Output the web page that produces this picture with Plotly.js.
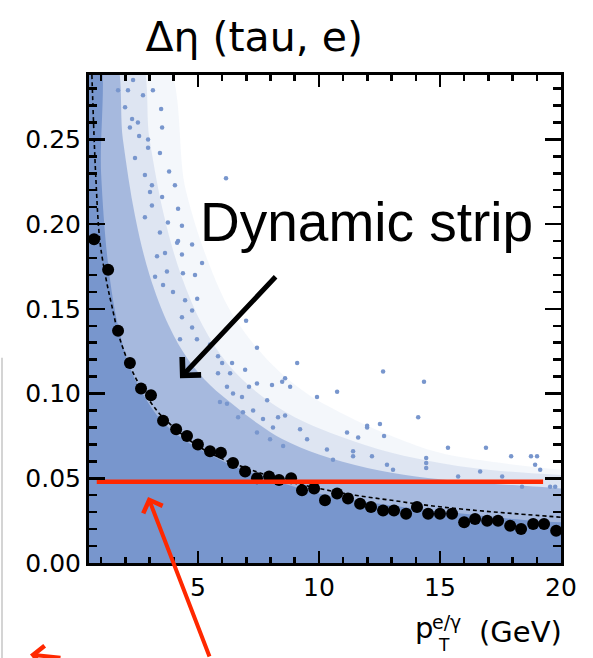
<!DOCTYPE html>
<html><head><meta charset="utf-8">
<script src="https://cdn.plot.ly/plotly-3.0.1.min.js"></script>
<style>html,body{margin:0;padding:0;background:#fff;overflow:hidden}#chart{width:593px;height:658px;}</style>
</head><body><div id="chart"></div>
<script>
// profile points (black dots)
const profileX = [0.71,1.29,1.70,2.19,2.65,3.06,3.56,4.10,4.55,5.00,5.50,5.95,6.45,6.95,7.44,7.94,8.35,8.85,9.30,9.80,10.25,10.75,11.20,11.70,12.15,12.65,13.10,13.60,14.05,14.51,15.00,15.50,16.00,16.45,16.95,17.40,17.90,18.35,18.85,19.30,19.80];
const profileY = [0.191,0.173,0.137,0.118,0.103,0.099,0.084,0.079,0.075,0.070,0.066,0.065,0.059,0.054,0.050,0.051,0.049,0.050,0.043,0.044,0.037,0.041,0.038,0.035,0.033,0.031,0.031,0.029,0.033,0.029,0.029,0.029,0.024,0.026,0.025,0.025,0.022,0.020,0.023,0.023,0.019];
// dotted fit curve
const fitX = [0.62,0.78,0.95,1.2,1.44,1.78,2.4,3.3,3.85,4.7,5.62,7.0,8.5,10.0,11.5,13.0,14.5,16.5,18.2,20.0];
const fitY = [0.288,0.228,0.190,0.168,0.152,0.132,0.110,0.090,0.082,0.072,0.064,0.056,0.049,0.044,0.040,0.037,0.034,0.031,0.029,0.027];
// envelopes of the scatter cloud (dense core, medium, thinning, sparse)
const coreEdgeX = [0.5,0.9,1.0,1.3,1.7,2.2,2.8,3.5,4.5,5.5,6.5,7.5,8.5,10,12,14,16,18,20];
const coreEdgeY = [0.3,0.3,0.23,0.175,0.14,0.115,0.098,0.084,0.072,0.064,0.057,0.052,0.047,0.041,0.036,0.032,0.029,0.026,0.024];
const midEdgeX = [0.5,1.5,1.9,2.4,3.0,3.8,4.6,5.5,6.5,7.5,8.5,10,12,14,16,18,20];
const midEdgeY = [0.3,0.3,0.25,0.205,0.17,0.14,0.12,0.105,0.093,0.082,0.073,0.064,0.056,0.051,0.048,0.046,0.044];
const thinEdgeX = [0.5,2.5,3.0,3.6,4.3,5.2,6.2,7.5,9,11,13,15,17,20];
const thinEdgeY = [0.3,0.3,0.25,0.205,0.17,0.14,0.118,0.1,0.086,0.074,0.065,0.059,0.055,0.052];
const outerEdgeX = [0.5,3.5,4.5,5.5,6.5,8,9.5,11,13,15,17,20];
const outerEdgeY = [0.3,0.3,0.22,0.175,0.145,0.118,0.1,0.088,0.075,0.065,0.06,0.055];
// individual sparse entries
const sparseX = [2.32,2.11,3.14,2.73,3.48,3.52,2.57,2.94,3.43,3.81,4.05,6.16,4.18,4.34,4.18,4.76,4.14,5.17,4.38,4.88,4.97,4.76,6.99,7.44,5.83,6.33,6.82,8.06,8.60,10.75,12.65,11.99,9.92,11.41,12.19,9.10,8.48,8.81,7.11,8.60,11.16,12.52,11.62,12.81,14.34,14.10,11.99,12.69,15.33,16.90,17.94,18.76,19.01,14.43,14.43,14.43,11.41,13.06,19.55,19.76,19.14,18.93,16.66,15.75,17.57,18.39,
  3.64,3.31,4.34,3.72,3.23,3.56,3.97,4.47,4.34,4.76,4.96,4.26,5.50,6.00,6.41,5.83,6.95,7.44,7.86,8.31,6.66,6.20,7.28,1.70,1.99,2.28,2.52,2.19,2.94,2.40,2.81,3.10,3.52,3.10,3.76,3.43,2.81,3.02,6.20,6.45,5.91,6.86,7.69,8.10,7.44,9.22,9.51,10.33,10.58,8.52,7.98];
const sparseY = [0.285,0.279,0.279,0.276,0.268,0.257,0.252,0.250,0.242,0.231,0.223,0.227,0.209,0.199,0.190,0.188,0.189,0.177,0.171,0.170,0.156,0.149,0.143,0.127,0.122,0.112,0.098,0.105,0.109,0.101,0.113,0.080,0.098,0.063,0.063,0.118,0.107,0.104,0.104,0.087,0.077,0.082,0.074,0.058,0.107,0.086,0.081,0.075,0.068,0.068,0.063,0.063,0.063,0.062,0.059,0.056,0.066,0.055,0.045,0.045,0.055,0.058,0.054,0.051,0.051,0.045,
  0.183,0.181,0.182,0.172,0.169,0.164,0.160,0.155,0.145,0.139,0.132,0.132,0.129,0.118,0.118,0.112,0.114,0.106,0.096,0.086,0.086,0.094,0.090,0.279,0.269,0.262,0.260,0.257,0.245,0.239,0.229,0.223,0.216,0.211,0.201,0.195,0.204,0.219,0.104,0.100,0.095,0.089,0.085,0.080,0.077,0.079,0.073,0.067,0.061,0.069,0.073];
// red fixed-strip line
const stripLineX = [0.82,19.26];
const stripLineY = [0.048,0.048];
const yTickVals = [0,0.05,0.10,0.15,0.20,0.25];
const yTickText = ['0.00','0.05','0.10','0.15','0.20','0.25'];
const xTickVals = [5,10,15,20];
const xTickText = ['5','10','15','20'];

const BLUE = 'rgb(120,150,205)';
const RED = 'rgb(255,40,0)';
const tickFont = {family:'DejaVu Sans', size:25, color:'#000'};

const traces = [
  {x:outerEdgeX, y:outerEdgeY, type:'scatter', mode:'lines', line:{width:0, shape:'spline'}, fill:'tozeroy', fillcolor:'rgba(120,150,205,0.08)', hoverinfo:'skip'},
  {x:thinEdgeX, y:thinEdgeY, type:'scatter', mode:'lines', line:{width:0, shape:'spline'}, fill:'tozeroy', fillcolor:'rgba(120,150,205,0.18)', hoverinfo:'skip'},
  {x:midEdgeX, y:midEdgeY, type:'scatter', mode:'lines', line:{width:0, shape:'spline'}, fill:'tozeroy', fillcolor:'rgba(120,150,205,0.55)', hoverinfo:'skip'},
  {x:coreEdgeX, y:coreEdgeY, type:'scatter', mode:'lines', line:{width:0, shape:'spline'}, fill:'tozeroy', fillcolor:BLUE, hoverinfo:'skip'},
  {x:sparseX, y:sparseY, type:'scatter', mode:'markers', marker:{color:BLUE, size:4.5}},
  {x:fitX, y:fitY, type:'scatter', mode:'lines', line:{color:'#000', width:1.6, dash:'4px,3px', shape:'spline'}},
  {x:profileX, y:profileY, type:'scatter', mode:'markers', marker:{color:'#000', size:12}},
  {x:stripLineX, y:stripLineY, type:'scatter', mode:'lines', line:{color:RED, width:4.5}}
];

const axisCommon = {
  showgrid:false, zeroline:false, showline:true, linewidth:3, linecolor:'#000',
  mirror:'allticks', ticks:'inside', tickwidth:2.5, tickcolor:'#000', tickfont:tickFont,
  automargin:false, fixedrange:true
};

const layout = {
  width:593, height:658,
  margin:{l:89, r:32, t:75, b:95},
  paper_bgcolor:'#fff', plot_bgcolor:'#fff',
  showlegend:false,
  title:{text:'Δη (tau, e)', font:{family:'DejaVu Sans', size:41, color:'#000'}, xref:'paper', x:0.35, xanchor:'center', yref:'container', y:0.944, yanchor:'middle'},
  xaxis:Object.assign({}, axisCommon, {range:[0.5,20], tickmode:'array', tickvals:xTickVals, ticktext:xTickText, ticklen:12,
    minor:{tickmode:'linear', tick0:0, dtick:1, ticklen:6, tickwidth:2.5, tickcolor:'#000', ticks:'inside'}}),
  yaxis:Object.assign({}, axisCommon, {range:[0,0.288], tickmode:'array', tickvals:yTickVals, ticktext:yTickText, ticklen:16,
    minor:{tickmode:'linear', tick0:0, dtick:0.01, ticklen:8, tickwidth:2.5, tickcolor:'#000', ticks:'inside'}}),
  annotations:[
    {text:'Dynamic strip', xref:'paper', yref:'paper', x:0.588, y:0.698, xanchor:'center', yanchor:'middle', showarrow:false, font:{family:'Liberation Sans', size:55, color:'#000'}},
    {text:'', x:4.26, y:0.109, xref:'x', yref:'y', ax:97, ay:-103, showarrow:true, arrowhead:4, arrowsize:1, arrowwidth:5, arrowcolor:'#000', standoff:0},
    {text:'', x:2.94, y:0.039, xref:'x', yref:'y', ax:62, ay:161, showarrow:true, arrowhead:4, arrowsize:1, arrowwidth:4, arrowcolor:RED, standoff:0},
    {text:'', x:-0.125, y:-0.1875, xref:'paper', yref:'paper', ax:32, ay:4, showarrow:true, arrowhead:4, arrowsize:1, arrowwidth:4, arrowcolor:RED, standoff:0},
    {text:'p', xref:'paper', yref:'paper', x:(424-89)/472, y:(563.4-628)/488.4, xanchor:'center', yanchor:'middle', showarrow:false, font:{family:'DejaVu Sans', size:29, color:'#000'}},
    {text:'e/γ', xref:'paper', yref:'paper', x:(446-89)/472, y:(563.4-622)/488.4, xanchor:'center', yanchor:'middle', showarrow:false, font:{family:'DejaVu Sans', size:19, color:'#000'}},
    {text:'T', xref:'paper', yref:'paper', x:(444-89)/472, y:(563.4-645)/488.4, xanchor:'center', yanchor:'middle', showarrow:false, font:{family:'DejaVu Sans', size:17, color:'#000'}},
    {text:'(GeV)', xref:'paper', yref:'paper', x:(520-89)/472, y:(563.4-632)/488.4, xanchor:'center', yanchor:'middle', showarrow:false, font:{family:'DejaVu Sans', size:29, color:'#000'}}
  ],
  shapes:[
    {type:'line', xref:'paper', yref:'paper', x0:(2-89)/472, x1:(2-89)/472, y0:(563.4-358)/488.4, y1:(563.4-660)/488.4, line:{color:'#d4d4d4', width:2}}
  ]
};

Plotly.newPlot('chart', traces, layout, {displayModeBar:false, staticPlot:true});
</script>
</body></html>
